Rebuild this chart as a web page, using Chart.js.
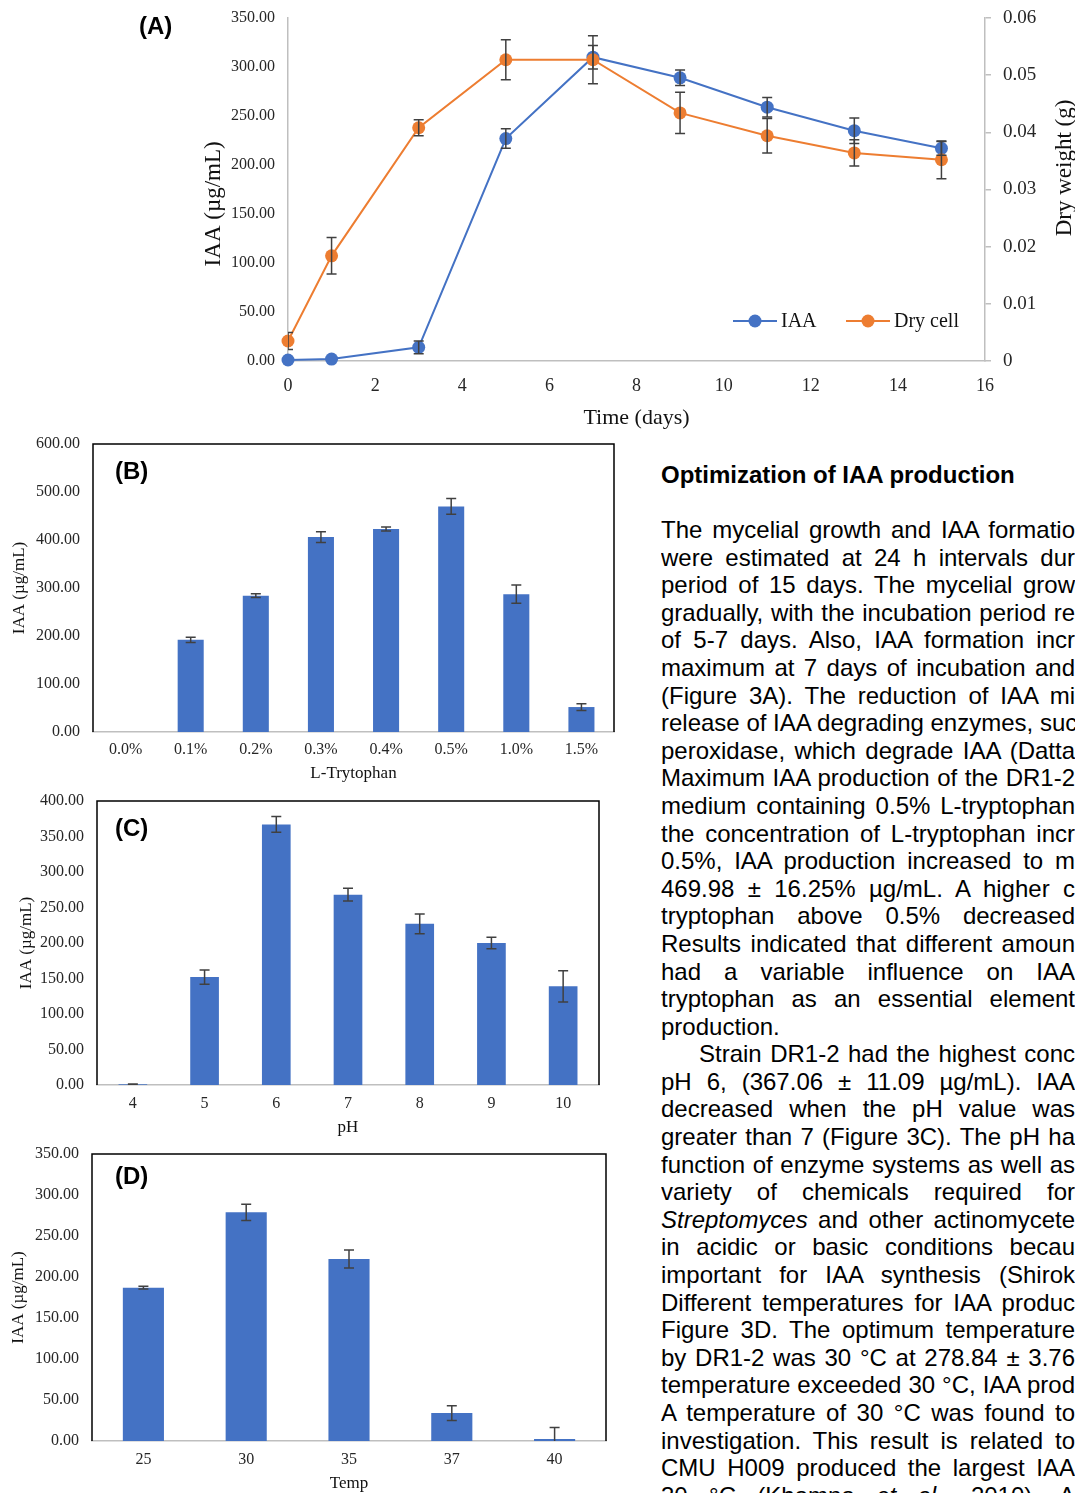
<!DOCTYPE html>
<html>
<head>
<meta charset="utf-8">
<script src="https://cdn.jsdelivr.net/npm/chart.js@4.4.0/dist/chart.umd.min.js"></script>
<style>
  html, body { margin: 0; padding: 0; background: #fff; overflow: hidden; }
  body { width: 1075px; height: 1493px; position: relative; }
  canvas { position: absolute; left: 0; }
  .tag { position: absolute; font: bold 24px 'Liberation Sans', Arial, sans-serif; color: #000; line-height: 28px; z-index: 2; }
  #text { position: absolute; left: 661px; top: 461px; width: 414px; overflow: hidden;
          font-family: 'Liberation Sans', Arial, sans-serif; font-size: 24px; color: #000; }
  #text h3 { margin: 0 0 27px; font-size: 24px; line-height: 28px; white-space: nowrap; }
  #text .ln { width: 414px; white-space: nowrap; text-align: justify; text-align-last: justify;
              line-height: 27.6px; height: 27.6px; }
  #text .ln.left { text-align-last: left; }
  #text .ln.indent { padding-left: 38px; width: 376px; }
</style>
</head>
<body>
<canvas id="chartA" width="1075" height="435" style="top:0px"></canvas>
<canvas id="chartB" width="630" height="358" style="top:430px"></canvas>
<canvas id="chartC" width="620" height="352" style="top:790px"></canvas>
<canvas id="chartD" width="630" height="356" style="top:1142px"></canvas>

<div class="tag" style="left:139px; top:12px">(A)</div>
<div class="tag" style="left:115px; top:457px">(B)</div>
<div class="tag" style="left:115px; top:814px">(C)</div>
<div class="tag" style="left:115px; top:1162px">(D)</div>

<div id="text">
  <h3>Optimization of IAA production</h3>
  <div class="ln">The mycelial growth and IAA formatio</div>
  <div class="ln">were estimated at 24 h intervals dur</div>
  <div class="ln">period of 15 days. The mycelial grow</div>
  <div class="ln">gradually, with the incubation period re</div>
  <div class="ln">of 5-7 days. Also, IAA formation incr</div>
  <div class="ln">maximum at 7 days of incubation and</div>
  <div class="ln">(Figure 3A). The reduction of IAA mi</div>
  <div class="ln">release of IAA degrading enzymes, suc</div>
  <div class="ln">peroxidase, which degrade IAA (Datta</div>
  <div class="ln">Maximum IAA production of the DR1-2</div>
  <div class="ln">medium containing 0.5% L-tryptophan</div>
  <div class="ln">the concentration of L-tryptophan incr</div>
  <div class="ln">0.5%, IAA production increased to m</div>
  <div class="ln">469.98 ± 16.25% µg/mL. A higher c</div>
  <div class="ln">tryptophan above 0.5% decreased</div>
  <div class="ln">Results indicated that different amoun</div>
  <div class="ln">had a variable influence on IAA</div>
  <div class="ln">tryptophan as an essential element</div>
  <div class="ln left">production.</div>
  <div class="ln indent">Strain DR1-2 had the highest conc</div>
  <div class="ln">pH 6, (367.06 ± 11.09 µg/mL). IAA</div>
  <div class="ln">decreased when the pH value was</div>
  <div class="ln">greater than 7 (Figure 3C). The pH ha</div>
  <div class="ln">function of enzyme systems as well as</div>
  <div class="ln">variety of chemicals required for</div>
  <div class="ln"><i>Streptomyces</i> and other actinomycete</div>
  <div class="ln">in acidic or basic conditions becau</div>
  <div class="ln">important for IAA synthesis (Shirok</div>
  <div class="ln">Different temperatures for IAA produc</div>
  <div class="ln">Figure 3D. The optimum temperature</div>
  <div class="ln">by DR1-2 was 30 °C at 278.84 ± 3.76</div>
  <div class="ln">temperature exceeded 30 °C, IAA prod</div>
  <div class="ln">A temperature of 30 °C was found to</div>
  <div class="ln">investigation. This result is related to</div>
  <div class="ln">CMU H009 produced the largest IAA</div>
  <div class="ln">30 °C (Khamna <i>et al.</i>, 2010). A</div>
</div>

<script>
// (A) time course
const days = [0, 1, 3, 5, 7, 9, 11, 13, 15];
const iaaTime = [1, 2, 14, 227, 310, 289, 259, 235, 217];
const iaaTimeErr = [0, 0, 6.5, 10, 12, 8, 10, 13, 7];
const dryCell = [0.0035, 0.0184, 0.0408, 0.0527, 0.0527, 0.0434, 0.0394, 0.0364, 0.0352];
const dryCellErr = [0.0015, 0.0032, 0.0014, 0.0035, 0.0042, 0.0036, 0.003, 0.0023, 0.0033];

// (B) L-tryptophan
const trpLabels = ['0.0%', '0.1%', '0.2%', '0.3%', '0.4%', '0.5%', '1.0%', '1.5%'];
const trpIAA = [0, 192, 284, 406, 423, 469.98, 287, 52];
const trpErr = [0, 5.5, 4, 11, 4, 16.25, 19, 7];

// (C) pH
const phLabels = ['4', '5', '6', '7', '8', '9', '10'];
const phIAA = [1, 152, 367.06, 268, 227, 200, 139];
const phErr = [0.5, 10, 11.09, 9, 14, 8, 22];

// (D) temperature
const tempLabels = ['25', '30', '35', '37', '40'];
const tempIAA = [187, 278.84, 222, 34, 2.5];
const tempErr = [1.6, 10, 11, 9, 14];

const blue = '#4472C4';
const orange = '#ED7D31';
const axisGray = '#BFBFBF';
const serif = "'Liberation Serif', 'Times New Roman', serif";

Chart.defaults.font.family = serif;
Chart.defaults.color = '#262626';

// fixed axis sizes, and no extra label padding pushed into the layout
function fixV(width) {
    return s => { s.width = width; s.paddingTop = 0; s.paddingBottom = 0; };
}
function fixH(height) {
    return s => { s.height = height; s.paddingLeft = 0; s.paddingRight = 0; };
}

// error bars with caps, clipped to the plot area
const errorBars = {
    id: 'errorBars',
    afterDatasetsDraw(chart) {
        const ctx = chart.ctx;
        const a = chart.chartArea;
        ctx.save();
        ctx.beginPath();
        ctx.rect(a.left, a.top, a.right - a.left, a.bottom - a.top);
        ctx.clip();
        ctx.strokeStyle = '#404040';
        ctx.lineWidth = 1.5;
        chart.data.datasets.forEach((ds, i) => {
            if (!ds.errors) return;
            const meta = chart.getDatasetMeta(i);
            const yScale = chart.scales[meta.yAxisID];
            meta.data.forEach((el, j) => {
                const e = ds.errors[j];
                if (!e) return;
                const raw = ds.data[j];
                const v = typeof raw === 'object' ? raw.y : raw;
                const top = yScale.getPixelForValue(v + e);
                const bot = yScale.getPixelForValue(v - e);
                ctx.beginPath();
                ctx.moveTo(el.x, top); ctx.lineTo(el.x, bot);
                ctx.moveTo(el.x - 5, top); ctx.lineTo(el.x + 5, top);
                ctx.moveTo(el.x - 5, bot); ctx.lineTo(el.x + 5, bot);
                ctx.stroke();
            });
        });
        ctx.restore();
    }
};

// legend inside chart A (line + marker like Excel)
const lineLegend = {
    id: 'lineLegend',
    afterDraw(chart) {
        const {ctx, chartArea} = chart;
        const y = chartArea.bottom - 40;
        let x = chartArea.right - 252;
        ctx.save();
        ctx.font = '20px ' + serif;
        ctx.textBaseline = 'middle';
        chart.data.datasets.forEach(ds => {
            ctx.strokeStyle = ds.borderColor;
            ctx.lineWidth = 2;
            ctx.beginPath();
            ctx.moveTo(x, y); ctx.lineTo(x + 44, y);
            ctx.stroke();
            ctx.fillStyle = ds.backgroundColor;
            ctx.beginPath();
            ctx.arc(x + 22, y, 6.5, 0, Math.PI * 2);
            ctx.fill();
            ctx.fillStyle = '#111';
            ctx.fillText(ds.label, x + 48, y + 1);
            x += 113;
        });
        ctx.restore();
    }
};

// secondary axis title, rotated like the primary one
const rightTitle = {
    id: 'rightTitle',
    afterDraw(chart) {
        const {ctx, chartArea} = chart;
        ctx.save();
        ctx.translate(chartArea.right + 80, chartArea.top + 150);
        ctx.rotate(-Math.PI / 2);
        ctx.font = '23px ' + serif;
        ctx.fillStyle = '#111';
        ctx.textAlign = 'center';
        ctx.textBaseline = 'middle';
        ctx.fillText('Dry weight (g)', 0, 0);
        ctx.restore();
    }
};

// black box round the bar plots
const frame = {
    id: 'frame',
    afterDraw(chart) {
        const {ctx, chartArea: a} = chart;
        ctx.save();
        ctx.strokeStyle = '#000';
        ctx.lineWidth = 1.5;
        ctx.beginPath();
        ctx.moveTo(a.left, a.bottom);
        ctx.lineTo(a.left, a.top);
        ctx.lineTo(a.right, a.top);
        ctx.lineTo(a.right, a.bottom);
        ctx.stroke();
        ctx.restore();
    }
};

new Chart(document.getElementById('chartA'), {
    type: 'line',
    data: {
        datasets: [
            {
                label: 'IAA',
                data: days.map((d, i) => ({x: d, y: iaaTime[i]})),
                errors: iaaTimeErr,
                yAxisID: 'y',
                order: 1,
                clip: false,
                borderColor: blue,
                backgroundColor: blue,
                borderWidth: 2,
                pointRadius: 6.5,
                pointBorderWidth: 0
            },
            {
                label: 'Dry cell',
                data: days.map((d, i) => ({x: d, y: dryCell[i]})),
                errors: dryCellErr,
                yAxisID: 'y1',
                order: 0,
                clip: false,
                borderColor: orange,
                backgroundColor: orange,
                borderWidth: 2,
                pointRadius: 6.5,
                pointBorderWidth: 0
            }
        ]
    },
    options: {
        responsive: false,
        animation: false,
        layout: {padding: {left: 196, top: 18, right: 0, bottom: 0}},
        plugins: {legend: {display: false}, tooltip: {enabled: false}},
        scales: {
            x: {
                type: 'linear', min: 0, max: 16,
                ticks: {stepSize: 2, padding: 14, font: {size: 18}},
                grid: {display: false, drawTicks: false},
                border: {color: axisGray, width: 1.5},
                title: {display: true, text: 'Time (days)', font: {size: 22}, color: '#111', padding: 4},
                afterFit: fixH(74)
            },
            y: {
                position: 'left', min: 0, max: 350,
                ticks: {stepSize: 50, padding: 13, font: {size: 16}, callback: v => v.toFixed(2)},
                grid: {display: false, drawTicks: false},
                border: {color: axisGray, width: 1.5},
                title: {display: true, text: 'IAA (µg/mL)     ', font: {size: 23}, color: '#111', padding: 4},
                afterFit: fixV(92)
            },
            y1: {
                position: 'right', min: 0, max: 0.06,
                ticks: {stepSize: 0.01, padding: 12, font: {size: 19}, callback: v => v === 0 ? '0' : v.toFixed(2)},
                grid: {drawOnChartArea: false, drawTicks: true, tickLength: 6, color: axisGray, lineWidth: 1.5},
                border: {color: axisGray, width: 1.5},
                afterFit: fixV(90)
            }
        }
    },
    plugins: [errorBars, lineLegend, rightTitle]
});

function barChart(id, labels, values, errors, yMax, yStep, xTitle, box) {
    new Chart(document.getElementById(id), {
        type: 'bar',
        data: {
            labels: labels,
            datasets: [{
                label: 'IAA',
                data: values,
                errors: errors,
                backgroundColor: blue,
                categoryPercentage: 1,
                barPercentage: 0.4
            }]
        },
        options: {
            responsive: false,
            animation: false,
            layout: {padding: box.padding},
            plugins: {legend: {display: false}, tooltip: {enabled: false}},
            scales: {
                x: {
                    ticks: {padding: box.xPad, font: {size: 16}},
                    grid: {display: false, drawTicks: false},
                    border: {color: axisGray, width: 1.5},
                    title: {display: true, text: xTitle, font: {size: 17}, color: '#111', padding: 4},
                    afterFit: fixH(box.xHeight)
                },
                y: {
                    min: 0, max: yMax,
                    ticks: {stepSize: yStep, padding: 13, font: {size: 16}, callback: v => v.toFixed(2)},
                    grid: {display: false, drawTicks: false},
                    border: {display: false},
                    title: {display: true, text: 'IAA (µg/mL)', font: {size: 17}, color: '#111', padding: 4},
                    afterFit: fixV(box.yWidth)
                }
            }
        },
        plugins: [errorBars, frame]
    });
}

barChart('chartB', trpLabels, trpIAA, trpErr, 600, 100, 'L-Trytophan',
    {padding: {left: 5, top: 14, right: 16, bottom: 0}, yWidth: 88, xHeight: 56, xPad: 8});
barChart('chartC', phLabels, phIAA, phErr, 400, 50, 'pH',
    {padding: {left: 12, top: 11, right: 21, bottom: 0}, yWidth: 85, xHeight: 57, xPad: 9});
barChart('chartD', tempLabels, tempIAA, tempErr, 350, 50, 'Temp',
    {padding: {left: 4, top: 12, right: 24, bottom: 0}, yWidth: 88, xHeight: 57, xPad: 9});
</script>
</body>
</html>
